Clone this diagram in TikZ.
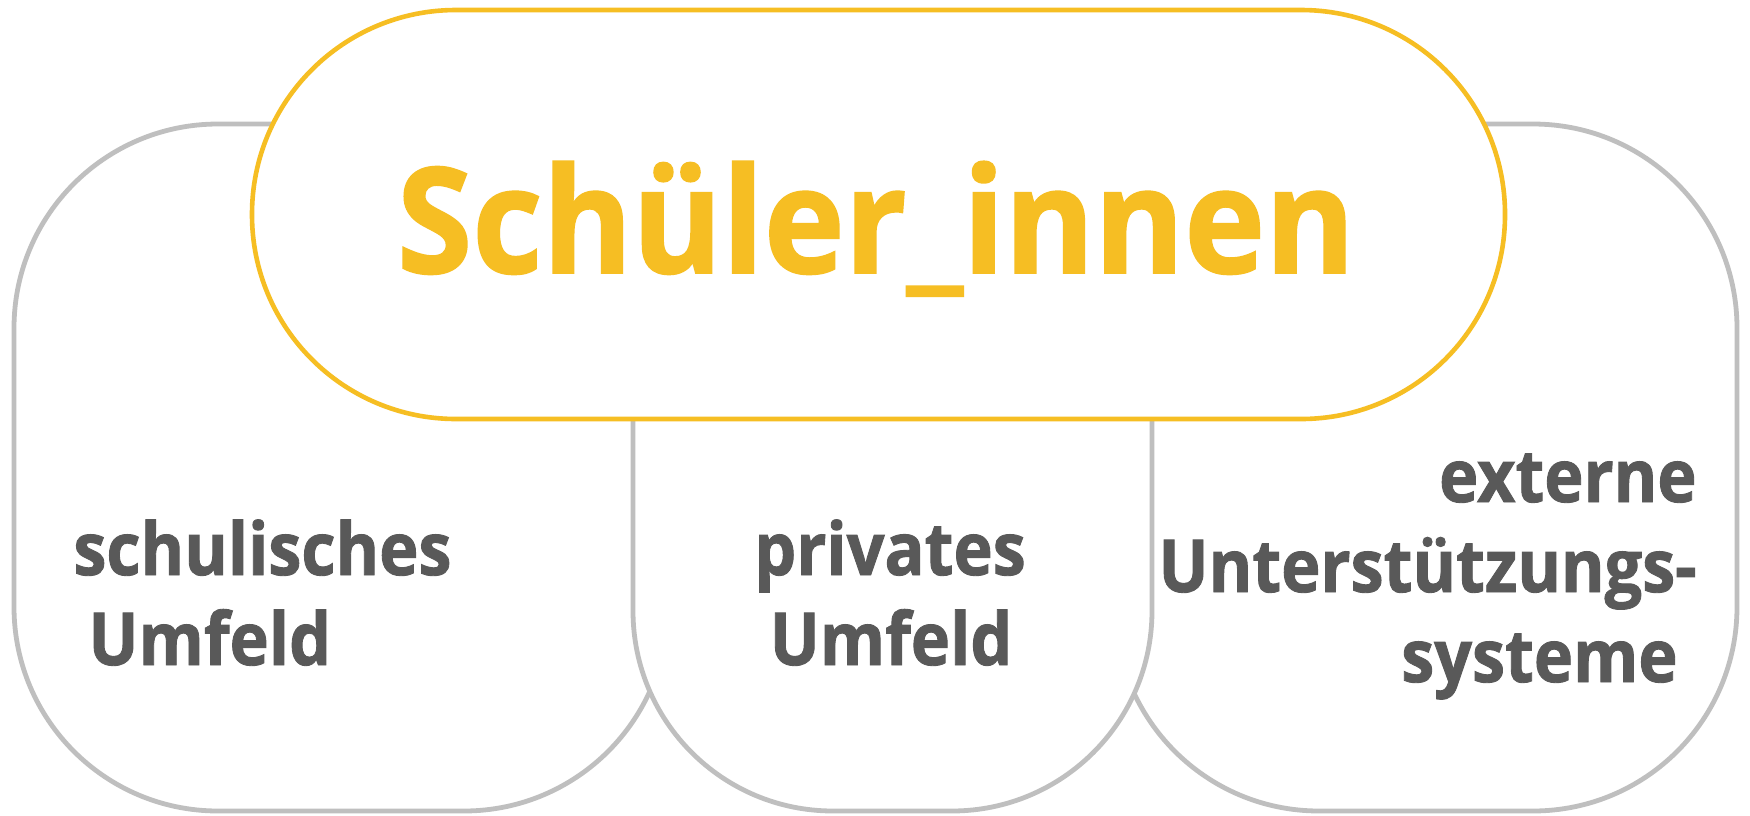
\documentclass[tikz,border=0pt]{standalone}
\usepackage{fontspec}
\setmainfont{Open Sans}[BoldFont={Open Sans Bold}]
\newfontfamily\segoelike{Open Sans Bold}[FakeStretch=0.91, FakeBold=1.2]
\newfontfamily\segoetitle{Open Sans Bold}[FakeStretch=0.93, FakeBold=1.2]
\definecolor{boxgray}{HTML}{BFBFBF}
\definecolor{txtgray}{HTML}{595959}
\definecolor{sunyellow}{HTML}{F6BE23}
\tikzset{
  graybox/.style={draw=boxgray, line width=2.4pt, fill=white, rounded corners=102pt},
  yellowbox/.style={draw=sunyellow, line width=2.3pt, fill=white, rounded corners=102pt},
  lbl/.style={inner sep=0pt, text=txtgray, font=\segoelike\fontsize{36.5pt}{44pt}\selectfont},
  title/.style={inner sep=0pt, text=sunyellow, font=\segoetitle\fontsize{73.5pt}{88pt}\selectfont}
}
\begin{document}
\begin{tikzpicture}[x=0.5pt,y=-0.5pt]
\useasboundingbox (0,0) rectangle (1750,815);
% boxes
\draw[graybox] (14,124) rectangle (668,811);
\draw[graybox] (1115,124) rectangle (1737,811);
\draw[graybox, rounded corners=100pt] (633,124) rectangle (1152,811);
\draw[yellowbox] (252,10) rectangle (1505,419);
% texts
\node[title, anchor=base] (t) at (876,273) {Schüler\_innen};
\node[lbl, anchor=base west] (s1) at (73,575) {schulisches};
\node[lbl, anchor=base west] (s2) at (88,665) {Umfeld};
\node[lbl, anchor=base] (p1) at (890,575) {privates};
\node[lbl, anchor=base] (p2) at (891,665) {Umfeld};
\node[lbl, anchor=base east] (e1) at (1697,502) {externe};
\node[lbl, anchor=base east] (e2) at (1697,592) {Unterstützungs-};
\node[lbl, anchor=base east] (e3) at (1678,682) {systeme};
\end{tikzpicture}
\end{document}
